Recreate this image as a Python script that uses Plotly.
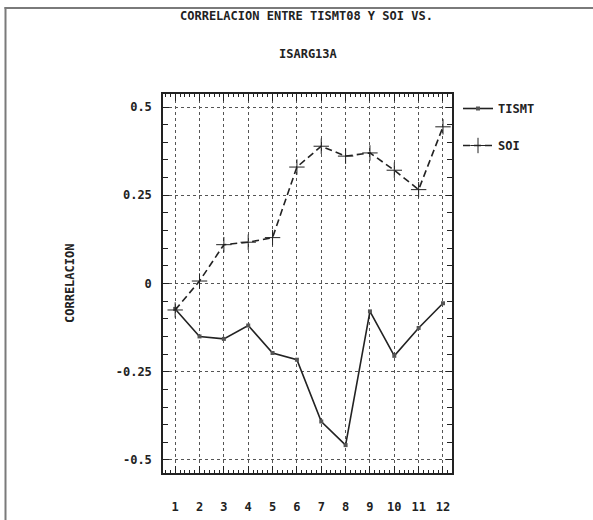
import plotly.graph_objects as go

months = [1, 2, 3, 4, 5, 6, 7, 8, 9, 10, 11, 12]
tismt = [-0.072, -0.150, -0.157, -0.119, -0.197, -0.216, -0.391, -0.458, -0.079, -0.205, -0.126, -0.056]
soi = [-0.075, 0.007, 0.110, 0.117, 0.130, 0.330, 0.389, 0.361, 0.370, 0.321, 0.266, 0.444]
y_tickvals = [0.5, 0.25, 0, -0.25, -0.5]
y_ticktext = ["0.5", "0.25", "0", "-0.25", "-0.5"]
x_ticktext = [str(m) for m in months]

FONT = "DejaVu Sans Mono"
INK = "#222222"

W, H = 593, 520
L, R, T, B = 163, 141, 94, 47
PW, PH = W - L - R, H - T - B

def px_x(p):
    return (p - L) / PW

def px_y(p):
    return (H - B - p) / PH

fig = go.Figure()
fig.add_trace(go.Scatter(
    x=months, y=tismt, name="TISMT", mode="lines+markers",
    line=dict(color=INK, width=1.6),
    marker=dict(symbol="square", size=4, color="#555555"),
    legendgroup="a",
))
fig.add_trace(go.Scatter(
    x=months, y=soi, name="SOI", mode="lines+markers",
    line=dict(color=INK, width=1.6, dash="7px,4px"),
    marker=dict(symbol="cross-thin", size=11, line=dict(color=INK, width=1)),
    legendgroup="b",
))

axis_common = dict(
    showline=True, linecolor=INK, linewidth=1.5, mirror="allticks",
    ticks="inside", tickcolor=INK, tickwidth=1,
    showgrid=True, gridcolor="#555555", gridwidth=1, griddash="dot",
    zeroline=False, automargin=False,
    tickfont=dict(family=FONT, size=12, color=INK, weight="bold"),
)

fig.update_layout(
    width=W, height=H,
    margin=dict(l=L, r=R, t=T, b=B, autoexpand=False),
    paper_bgcolor="white", plot_bgcolor="white",
    showlegend=True,
    legend=dict(
        x=px_x(458), y=px_y(94), xanchor="left", yanchor="top",
        font=dict(family=FONT, size=12, color=INK, weight="bold"),
        traceorder="grouped", tracegroupgap=18,
        bgcolor="rgba(0,0,0,0)", itemwidth=30,
    ),
    xaxis=dict(
        range=[0.5, 12.37], tickmode="array", tickvals=months, ticktext=x_ticktext,
        ticklen=7, ticklabelstandoff=22,
        minor=dict(tickmode="linear", tick0=0, dtick=0.2, ticklen=3, ticks="inside",
                   tickcolor=INK, showgrid=False),
        **axis_common,
    ),
    yaxis=dict(
        range=[-0.537, 0.537], tickmode="array", tickvals=y_tickvals, ticktext=y_ticktext,
        ticklen=6, ticklabelstandoff=7,
        minor=dict(tickmode="linear", tick0=0, dtick=0.05, ticklen=5, ticks="inside",
                   tickcolor=INK, showgrid=False),
        **axis_common,
    ),
    annotations=[
        dict(text="CORRELACION ENTRE TISMT08 Y SOI VS.", xref="paper", yref="paper",
             x=px_x(306), y=px_y(16), xanchor="center", yanchor="middle", showarrow=False,
             font=dict(family=FONT, size=12, color=INK, weight="bold")),
        dict(text="ISARG13A", xref="paper", yref="paper",
             x=px_x(308), y=px_y(54), xanchor="center", yanchor="middle", showarrow=False,
             font=dict(family=FONT, size=12, color=INK, weight="bold")),
        dict(text="CORRELACION", xref="paper", yref="paper", textangle=-90,
             x=px_x(70), y=px_y(284), xanchor="center", yanchor="middle", showarrow=False,
             font=dict(family=FONT, size=12, color=INK, weight="bold")),
    ],
    shapes=[
        dict(type="line", xref="paper", yref="paper", layer="above",
             x0=px_x(5.5), x1=px_x(5.5), y0=px_y(7), y1=px_y(521),
             line=dict(color="#7a7a7a", width=2)),
        dict(type="line", xref="paper", yref="paper", layer="above",
             x0=px_x(4.5), x1=px_x(594), y0=px_y(8), y1=px_y(8),
             line=dict(color="#7a7a7a", width=2)),
    ],
)

fig.write_html("out.html", config={"displayModeBar": False})
